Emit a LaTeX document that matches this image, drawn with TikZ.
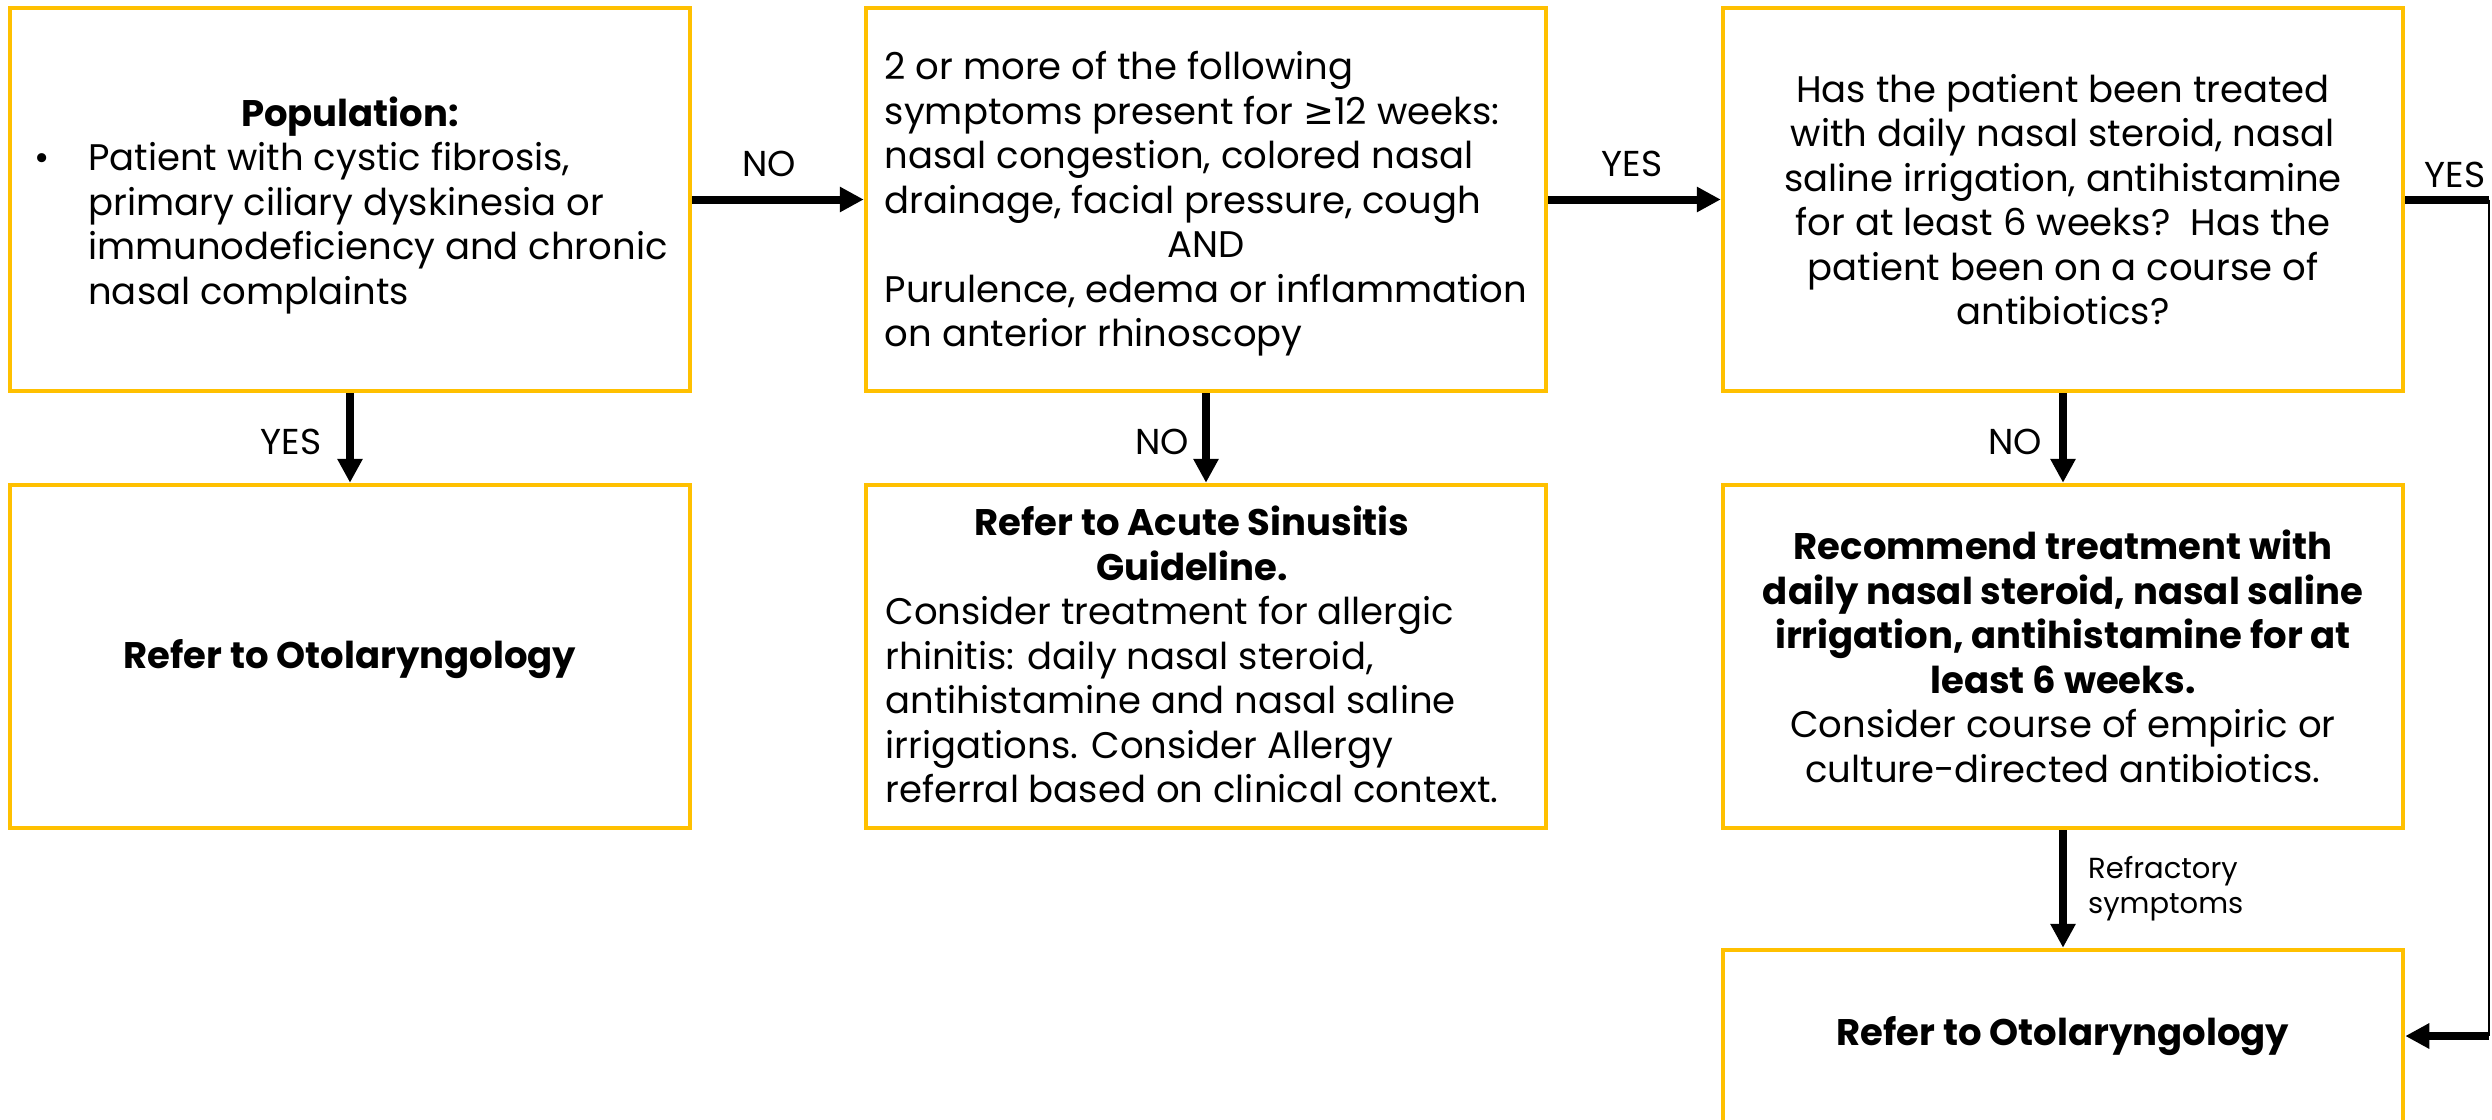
\documentclass[tikz,border=0pt]{standalone}
\usepackage{fontspec}
\setmainfont{Poppins}
\newfontfamily\symfont{DejaVu Sans}
\usetikzlibrary{arrows.meta}
\definecolor{gold}{HTML}{FFC000}
\newcommand{\ctr}[1]{\multicolumn{1}{@{}c@{}}{#1}}
\newcommand{\lowerby}[2]{\raisebox{-#1}[\height][\depth]{#2}}
\begin{document}
\begin{tikzpicture}[x=1pt,y=-1pt,
  box/.style={draw=gold, line width=4.5pt, minimum width=680pt, minimum height=383pt,
    inner sep=0pt, font=\fontsize{37}{44.5}\selectfont},
  lowbox/.style={box, minimum height=343pt},
  arr/.style={line width=8pt, -{Triangle[length=24pt,width=24pt]}},
  thickline/.style={line width=8pt},
  thinline/.style={line width=2.5pt},
  lab/.style={font=\fontsize{36}{40}\selectfont, inner sep=0pt},
  smalllab/.style={font=\fontsize{29}{35}\selectfont, inner sep=0pt, align=left}]
\clip (0,0) rectangle (2492,1119);
\useasboundingbox (0,0) rectangle (2492,1119);
% top row
\node[box] (b1) at (350,199.5) {\lowerby{7pt}{\begin{tabular}{@{}p{56pt}@{}l@{}}
\multicolumn{2}{@{}c@{}}{\textbf{Population:}}\\
\hspace*{2pt}• & Patient with cystic fibrosis,\\
 & primary ciliary dyskinesia or\\
 & immunodeficiency and chronic\\
 & nasal complaints
\end{tabular}}};
\node[box] (b2) at (1206,199.5) {\lowerby{5pt}{\begin{tabular}{@{}l@{}}
2 or more of the following\\
symptoms present for {\symfont ≥}12 weeks:\\
nasal congestion, colored nasal\\
drainage, facial pressure, cough\\
\ctr{AND}\\
Purulence, edema or inflammation\\
on anterior rhinoscopy
\end{tabular}}};
\node[box, align=center] (b3) at (2063,199.5) {Has the patient been treated\\
with daily nasal steroid, nasal\\
saline irrigation, antihistamine\\
for at least 6 weeks?\ \ Has the\\
patient been on a course of\\
antibiotics?};
% second row
\node[lowbox] (b4) at (350,656.5) {\lowerby{3pt}{\textbf{Refer to Otolaryngology}}};
\node[lowbox] (b5) at (1206,656.5) {\hspace*{-28pt}\lowerby{4pt}{\begin{tabular}{@{}l@{}}
\ctr{\textbf{Refer to Acute Sinusitis}}\\
\ctr{\textbf{Guideline.}}\\
Consider treatment for allergic\\
rhinitis: daily nasal steroid,\\
antihistamine and nasal saline\\
irrigations. Consider Allergy\\
referral based on clinical context.
\end{tabular}}};
\node[lowbox, align=center] (b6) at (2063,656.5) {\textbf{Recommend treatment with}\\
\textbf{daily nasal steroid, nasal saline}\\
\textbf{irrigation, antihistamine for at}\\
\textbf{least 6 weeks.}\\
Consider course of empiric or\\
culture-directed antibiotics.};
% bottom box (cut by the page edge)
\node[box, minimum height=172pt, align=center] (b7) at (2063,1036) {\textbf{Refer to Otolaryngology}};
% connectors
\draw[arr] (b1.east) -- (b2.west);
\draw[arr] (b2.east) -- (b3.west);
\draw[arr] (b1.south) -- (b4.north);
\draw[arr] (b2.south) -- (b5.north);
\draw[arr] (b3.south) -- (b6.north);
\draw[arr] (b6.south) -- (b7.north);
\coordinate (r1) at (2489,199.5);
\coordinate (r2) at (2489,1036);
\draw[thickline] (b3.east) -- (r1);
\draw[thinline] (r1) -- (r2);
\draw[arr] (r2) -- (b7.east);
% labels
\node[lab] (lno1) at (769,164) {NO};
\node[lab] (lyes1) at (1632,164) {YES};
\node[lab] (lyes2) at (2455,175) {YES};
\node[lab] (lyes3) at (291,442) {YES};
\node[lab] (lno2) at (1162,442) {NO};
\node[lab] (lno3) at (2015,442) {NO};
\node[smalllab, anchor=west] (lref) at (2088,889) {Refractory\\symptoms};
\end{tikzpicture}
\end{document}
